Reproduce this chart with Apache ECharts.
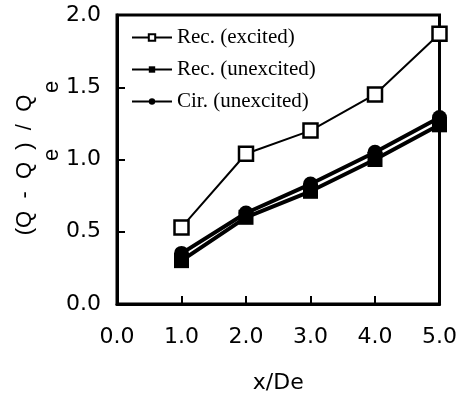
<!DOCTYPE html>
<html>
<head>
<meta charset="utf-8">
<script src="https://cdn.jsdelivr.net/npm/echarts@6/dist/echarts.min.js"></script>
<style>html,body{margin:0;padding:0;background:#fff}#c{width:460px;height:399px}</style>
</head>
<body>
<div id="c"></div>
<script>
var xValues = [1, 2, 3, 4, 5];
var recExcited = [0.53, 1.04, 1.20, 1.45, 1.87];
var recUnexcited = [0.30, 0.60, 0.78, 1.00, 1.24];
var cirUnexcited = [0.35, 0.63, 0.83, 1.05, 1.29];
var seriesNames = ['Rec. (excited)', 'Rec. (unexcited)', 'Cir. (unexcited)'];
var xAxisTitle = 'x/De';
var yAxisTitleMain = '(Q  -  Q  )  /  Q';
var yAxisSub = 'e';

function pairs(ys) { return xValues.map(function (x, i) { return [x, ys[i]]; }); }

var chart = echarts.init(document.getElementById('c'), null, {renderer: 'canvas'});
var sansFont = 'Liberation Sans';
var tickFont = {fontFamily: 'DejaVu Sans', fontSize: 22, color: '#000'};

chart.setOption({
  animation: false,
  backgroundColor: '#fff',
  grid: {left: 117, right: 19, top: 15, bottom: 92, show: true, borderColor: '#000', borderWidth: 3, backgroundColor: 'transparent'},
  legend: {
    orient: 'vertical', left: 126, top: 22,
    itemWidth: 40, itemHeight: 8, itemGap: 11,
    textStyle: {fontFamily: 'Liberation Serif', fontSize: 21, color: '#000', lineHeight: 21},
    data: seriesNames
  },
  xAxis: {
    type: 'value', min: 0, max: 5, interval: 1,
    name: xAxisTitle, nameLocation: 'middle', nameGap: 68,
    nameTextStyle: {fontFamily: 'DejaVu Sans', fontSize: 22, color: '#000'},
    axisLine: {show: true, onZero: false, lineStyle: {color: '#000', width: 3}},
    axisTick: {show: true, inside: true, length: 8, lineStyle: {color: '#000', width: 2}},
    axisLabel: Object.assign({margin: 22, formatter: function (v) { return v.toFixed(1); }}, tickFont),
    splitLine: {show: false}
  },
  yAxis: {
    type: 'value', min: 0, max: 2, interval: 0.5,
    axisLine: {show: true, onZero: false, lineStyle: {color: '#000', width: 3}},
    axisTick: {show: true, inside: true, length: 8, lineStyle: {color: '#000', width: 2}},
    axisLabel: Object.assign({margin: 16, formatter: function (v) { return v.toFixed(1); }}, tickFont),
    splitLine: {show: false}
  },
  series: [
    {
      name: seriesNames[0], type: 'line', data: pairs(recExcited),
      symbol: 'rect', symbolSize: 14, showAllSymbol: true,
      lineStyle: {color: '#000', width: 2},
      itemStyle: {color: '#fff', borderColor: '#000', borderWidth: 2.5},
      z: 3
    },
    {
      name: seriesNames[1], type: 'line', data: pairs(recUnexcited),
      symbol: 'rect', symbolSize: 15,
      lineStyle: {color: '#000', width: 4},
      itemStyle: {color: '#000', borderColor: '#000', borderWidth: 0},
      z: 2
    },
    {
      name: seriesNames[2], type: 'line', data: pairs(cirUnexcited),
      symbol: 'circle', symbolSize: 15,
      lineStyle: {color: '#000', width: 4},
      itemStyle: {color: '#000', borderColor: '#000', borderWidth: 0},
      z: 2
    }
  ],
  graphic: [
    {
      type: 'text', x: 25, y: 165, rotation: Math.PI / 2,
      style: {text: yAxisTitleMain, fontFamily: sansFont, fontSize: 22, fill: '#000', align: 'center', verticalAlign: 'middle'}
    },
    {
      type: 'text', x: 52, y: 155, rotation: Math.PI / 2,
      style: {text: yAxisSub, fontFamily: sansFont, fontSize: 22, fill: '#000', align: 'center', verticalAlign: 'middle'}
    },
    {
      type: 'text', x: 52, y: 87, rotation: Math.PI / 2,
      style: {text: yAxisSub, fontFamily: sansFont, fontSize: 22, fill: '#000', align: 'center', verticalAlign: 'middle'}
    }
  ]
});
</script>
</body>
</html>
